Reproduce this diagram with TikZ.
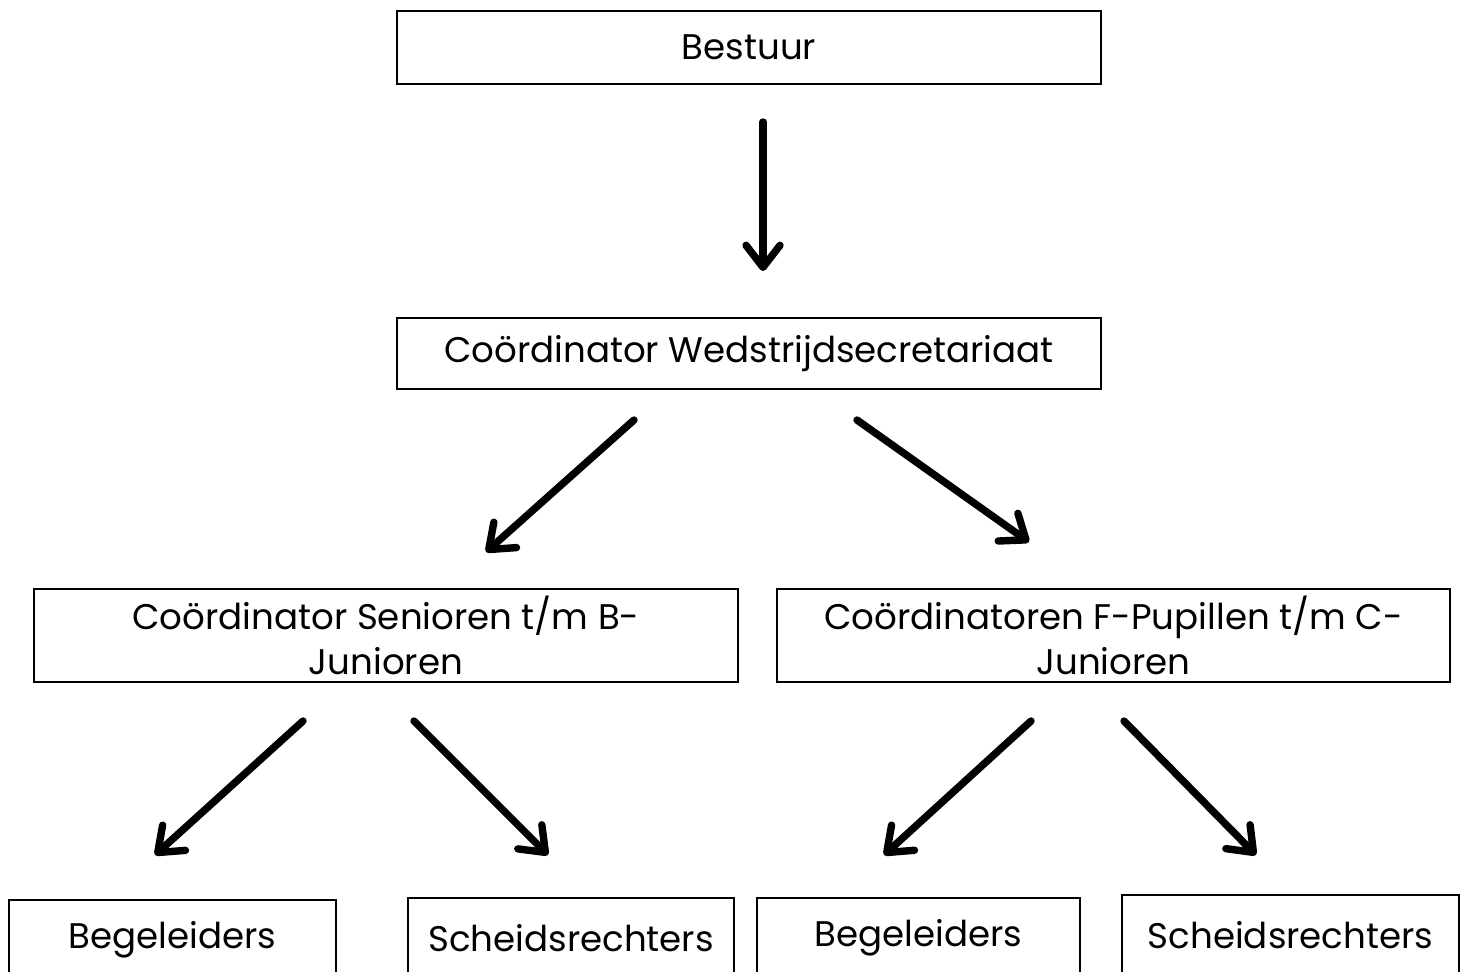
\documentclass[tikz,border=0pt]{standalone}
\usepackage{fontspec}
\setmainfont{Poppins}
\usetikzlibrary{arrows.meta}

\begin{document}
\begin{tikzpicture}[x=0.5pt, y=-0.5pt,
  every node/.style = {shape=rectangle, draw, line width=1pt, inner sep=0pt, align=center,
    font=\fontsize{17.8}{22.5}\selectfont},
  link/.style = {line width=3.7pt, line cap=round,
    -{Straight Barb[length=11pt, width=17pt, line cap=round, line join=round]}}]
  \useasboundingbox (0,0) rectangle (1470,971);
  % boxes
  \node[minimum width=352pt, minimum height=36.5pt] (bestuur) at (749,47.5) {Bestuur};
  \node[minimum width=352pt, minimum height=35.5pt] (coord) at (749,353.5) {Coördinator Wedstrijdsecretariaat};
  \node[minimum width=352pt, minimum height=46.5pt] (senior) at (386,635.5) {Coördinator Senioren t/m B-\\Junioren};
  \node[minimum width=336.5pt, minimum height=46.5pt] (pupil) at (1113.5,635.5) {Coördinatoren F-Pupillen t/m C-\\Junioren};
  \node[minimum width=163.5pt, minimum height=40pt] (begA) at (172.5,940) {Begeleiders};
  \node[minimum width=163pt, minimum height=40pt] (schA) at (571,938) {Scheidsrechters};
  \node[minimum width=161.5pt, minimum height=40pt] (begB) at (918.5,938) {Begeleiders};
  \node[minimum width=168.5pt, minimum height=40pt] (schB) at (1290.5,935) {Scheidsrechters};
  % arrow ends
  \coordinate (bestuur-out) at (763,122);   \coordinate (coord-in) at (763,271);
  \coordinate (coord-outL) at (634,420);    \coordinate (senior-in) at (486,552);
  \coordinate (coord-outR) at (857,420);    \coordinate (pupil-in) at (1029,542);
  \coordinate (senior-outL) at (303,721);   \coordinate (begA-in) at (155,855);
  \coordinate (senior-outR) at (414,721);   \coordinate (schA-in) at (548,855);
  \coordinate (pupil-outL) at (1031,721);   \coordinate (begB-in) at (884,855);
  \coordinate (pupil-outR) at (1124,721);   \coordinate (schB-in) at (1256,855);
  % arrows
  \draw[link] (bestuur-out) -- (coord-in);
  \draw[link] (coord-outL) -- (senior-in);
  \draw[link] (coord-outR) -- (pupil-in);
  \draw[link] (senior-outL) -- (begA-in);
  \draw[link] (senior-outR) -- (schA-in);
  \draw[link] (pupil-outL) -- (begB-in);
  \draw[link] (pupil-outR) -- (schB-in);
\end{tikzpicture}
\end{document}
